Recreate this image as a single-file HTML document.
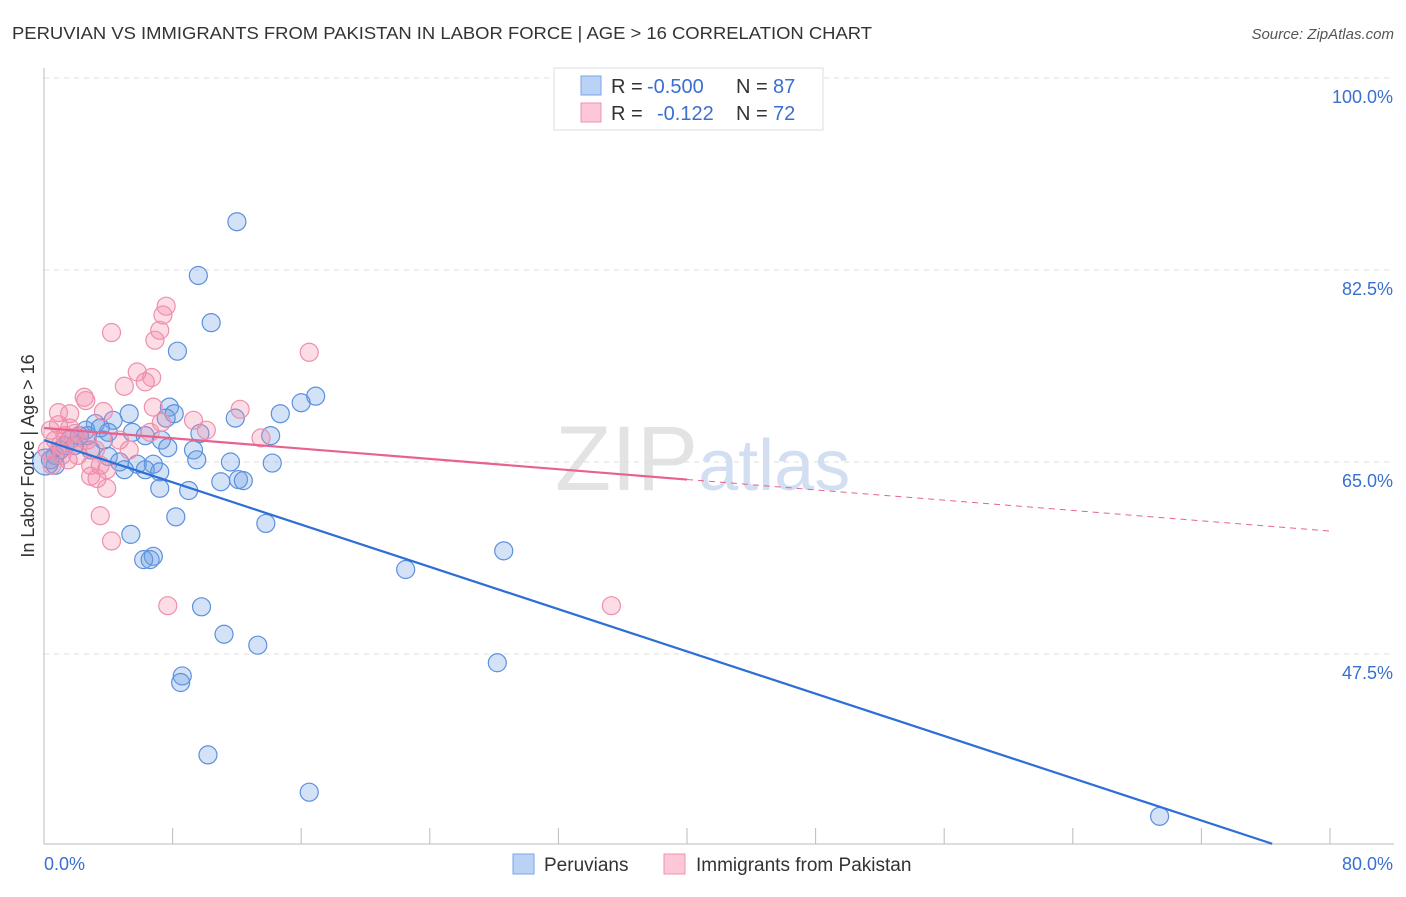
<!DOCTYPE html>
<html><head><meta charset="utf-8"><style>
body{margin:0;background:#fff;font-family:"Liberation Sans",sans-serif}
svg text{font-family:"Liberation Sans",sans-serif}
</style></head><body>
<svg id="chart" width="1406" height="892" xmlns="http://www.w3.org/2000/svg">
<text x="12" y="39" font-size="17.5" fill="#333" textLength="860" lengthAdjust="spacingAndGlyphs">PERUVIAN VS IMMIGRANTS FROM PAKISTAN IN LABOR FORCE | AGE &gt; 16 CORRELATION CHART</text>
<text x="1394" y="39" font-size="15" fill="#555" text-anchor="end" font-style="italic">Source: ZipAtlas.com</text>
<text x="555" y="490" font-size="92" fill="#ddd" font-family="Liberation Serif" opacity="0.8">ZIP<tspan fill="#c8d8f0" font-family="Liberation Sans" font-size="72">atlas</tspan></text>
<g id="grid"></g><g id="axes"></g><g id="pts"></g><g id="lines"></g>
<text transform="translate(34,456) rotate(-90)" font-size="18" fill="#333" text-anchor="middle">In Labor Force | Age &gt; 16</text>
<g>
<rect x="554" y="68" width="269" height="62" fill="#fff" stroke="#ddd"/>
<rect x="581" y="76" width="20" height="19" fill="#b9d2f5" stroke="#7aa6e6"/>
<rect x="581" y="103" width="20" height="19" fill="#fcc7d6" stroke="#ee93ae"/>
<text x="611" y="93" font-size="20" fill="#333">R =</text>
<text x="647" y="93" font-size="20" fill="#3a6fd0">-0.500</text>
<text x="736" y="93" font-size="20" fill="#333">N =</text>
<text x="773" y="93" font-size="20" fill="#3a6fd0">87</text>
<text x="611" y="120" font-size="20" fill="#333">R =</text>
<text x="657" y="120" font-size="20" fill="#3a6fd0">-0.122</text>
<text x="736" y="120" font-size="20" fill="#333">N =</text>
<text x="773" y="120" font-size="20" fill="#3a6fd0">72</text>
</g>
<g>
<rect x="513" y="854" width="21" height="20" fill="#b9d2f5" stroke="#7aa6e6"/>
<text x="544" y="871" font-size="19" fill="#333">Peruvians</text>
<rect x="664" y="854" width="21" height="20" fill="#fcc7d6" stroke="#ee93ae"/>
<text x="696" y="871" font-size="19" fill="#333">Immigrants from Pakistan</text>
</g>
</svg>
<script>
const yTicks=[100,82.5,65,47.5];
const yTickLabels=["100.0%","82.5%","65.0%","47.5%"];
const xTickLabels=["0.0%","80.0%"];
const blueX=[12.0,9.6,10.4,8.3,16.9,16.0,14.7,11.9,7.8,8.1,7.6,5.3,4.3,3.2,14.1,9.7,7.3,6.3,5.5,4.0,2.7,9.3,7.7,9.5,11.6,14.2,4.0,4.7,5.8,6.8,6.3,7.2,5.0,12.1,12.4,11.0,7.2,9.0,8.2,13.8,5.4,6.8,6.2,6.6,28.6,22.5,9.8,11.2,13.3,28.2,8.6,8.5,10.2,16.5,69.4,0.4,0.7,1.0,1.3,1.6,1.9,2.2,2.6,3.5,3.7,2.9,0.7,0.1];
const blueY=[86.9,82.0,77.7,75.1,71.0,70.4,69.4,69.0,70.0,69.4,69.0,69.4,68.8,68.5,67.4,67.6,67.0,67.4,67.7,67.7,67.4,66.1,66.3,65.2,65.0,64.9,65.5,65.0,64.8,64.8,64.3,64.1,64.3,63.4,63.3,63.2,62.6,62.4,60.0,59.4,58.4,56.4,56.1,56.1,56.9,55.2,51.8,49.3,48.3,46.7,45.5,44.9,38.3,34.9,32.7,65.2,65.6,66.1,66.5,67.0,66.5,67.4,67.9,68.1,67.0,66.1,64.7,65.0];
const pinkX=[7.6,7.4,7.2,6.9,4.2,16.5,5.8,6.7,6.3,5.0,2.5,2.6,6.8,12.2,9.3,10.1,13.5,3.7,1.6,0.9,7.3,6.6,5.3,4.7,3.2,3.5,2.9,3.9,2.9,3.3,3.9,3.5,4.2,7.7,35.3,0.4,0.7,1.0,1.3,1.6,1.9,2.2,1.1,0.2,0.9,2.1,2.7,1.5,0.5];
const pinkY=[79.2,78.4,77.0,76.1,76.8,75.0,73.2,72.7,72.3,71.9,70.9,70.6,70.0,69.8,68.8,67.9,67.2,69.6,69.4,69.5,68.6,67.7,66.1,67.0,66.1,64.7,64.7,64.3,63.7,63.5,62.6,60.1,57.8,51.9,51.9,67.9,67.0,66.5,67.4,68.1,67.6,66.8,65.6,66.1,68.4,65.6,67.0,65.2,64.7];
const blueLine=[0,67.0,76.4,30.2];
const pinkLine=[0,68.1,40,63.4,80,58.7];
const NS="http://www.w3.org/2000/svg";
const X=v=>44+v*16.075, Y=v=>78+(100-v)*10.971;
function mk(t,a,p){const e=document.createElementNS(NS,t);for(const k in a)e.setAttribute(k,a[k]);document.getElementById(p).appendChild(e);return e;}
yTicks.forEach((t,i)=>{
 const g=mk('line',{x1:44,x2:1394,y1:Y(t),y2:Y(t),stroke:'#ddd','stroke-dasharray':'5,5'},'grid');
 
 
 const tx=mk('text',{x:1393,y:Y(t)+25,'font-size':18,fill:'#3a6fd0','text-anchor':'end'},'axes');tx.textContent=yTickLabels[i];
 
 
});
let a=mk('line',{x1:44,x2:44,y1:68,y2:844,stroke:'#bbb'},'axes');


a=mk('line',{x1:44,x2:1394,y1:844,y2:844,stroke:'#bbb'},'axes');


for(let i=0;i<=10;i++){const t=mk('line',{x1:X(i*8),x2:X(i*8),y1:828,y2:844,stroke:'#bbb'},'axes');
 
 }
[[0,'start'],[80,'end']].forEach((p,i)=>{const t=mk('text',{x:i?1393:44,y:870,'font-size':18,fill:'#3a6fd0','text-anchor':p[1]},'axes');t.textContent=xTickLabels[i];
 
 });
blueX.forEach((v,i)=>{const c=mk('circle',{cx:X(v),cy:Y(blueY[i]),r:(i==blueX.length-1?13:9),fill:'rgba(110,160,230,0.3)',stroke:'#5c90dc','stroke-width':1.2},'pts');
 
 });
pinkX.forEach((v,i)=>{const c=mk('circle',{cx:X(v),cy:Y(pinkY[i]),r:9,fill:'rgba(245,140,170,0.3)',stroke:'#ee90ac','stroke-width':1.2},'pts');
 
 });
let l=mk('line',{x1:X(blueLine[0]),y1:Y(blueLine[1]),x2:X(blueLine[2]),y2:Y(blueLine[3]),stroke:'#2e6fd6','stroke-width':2.2},'lines');


l=mk('line',{x1:X(pinkLine[0]),y1:Y(pinkLine[1]),x2:X(pinkLine[2]),y2:Y(pinkLine[3]),stroke:'#e8628e','stroke-width':2.2},'lines');


l=mk('line',{x1:X(pinkLine[2]),y1:Y(pinkLine[3]),x2:X(pinkLine[4]),y2:Y(pinkLine[5]),stroke:'#e8628e','stroke-width':1,'stroke-dasharray':'6,5'},'lines');


</script>
</body></html>
